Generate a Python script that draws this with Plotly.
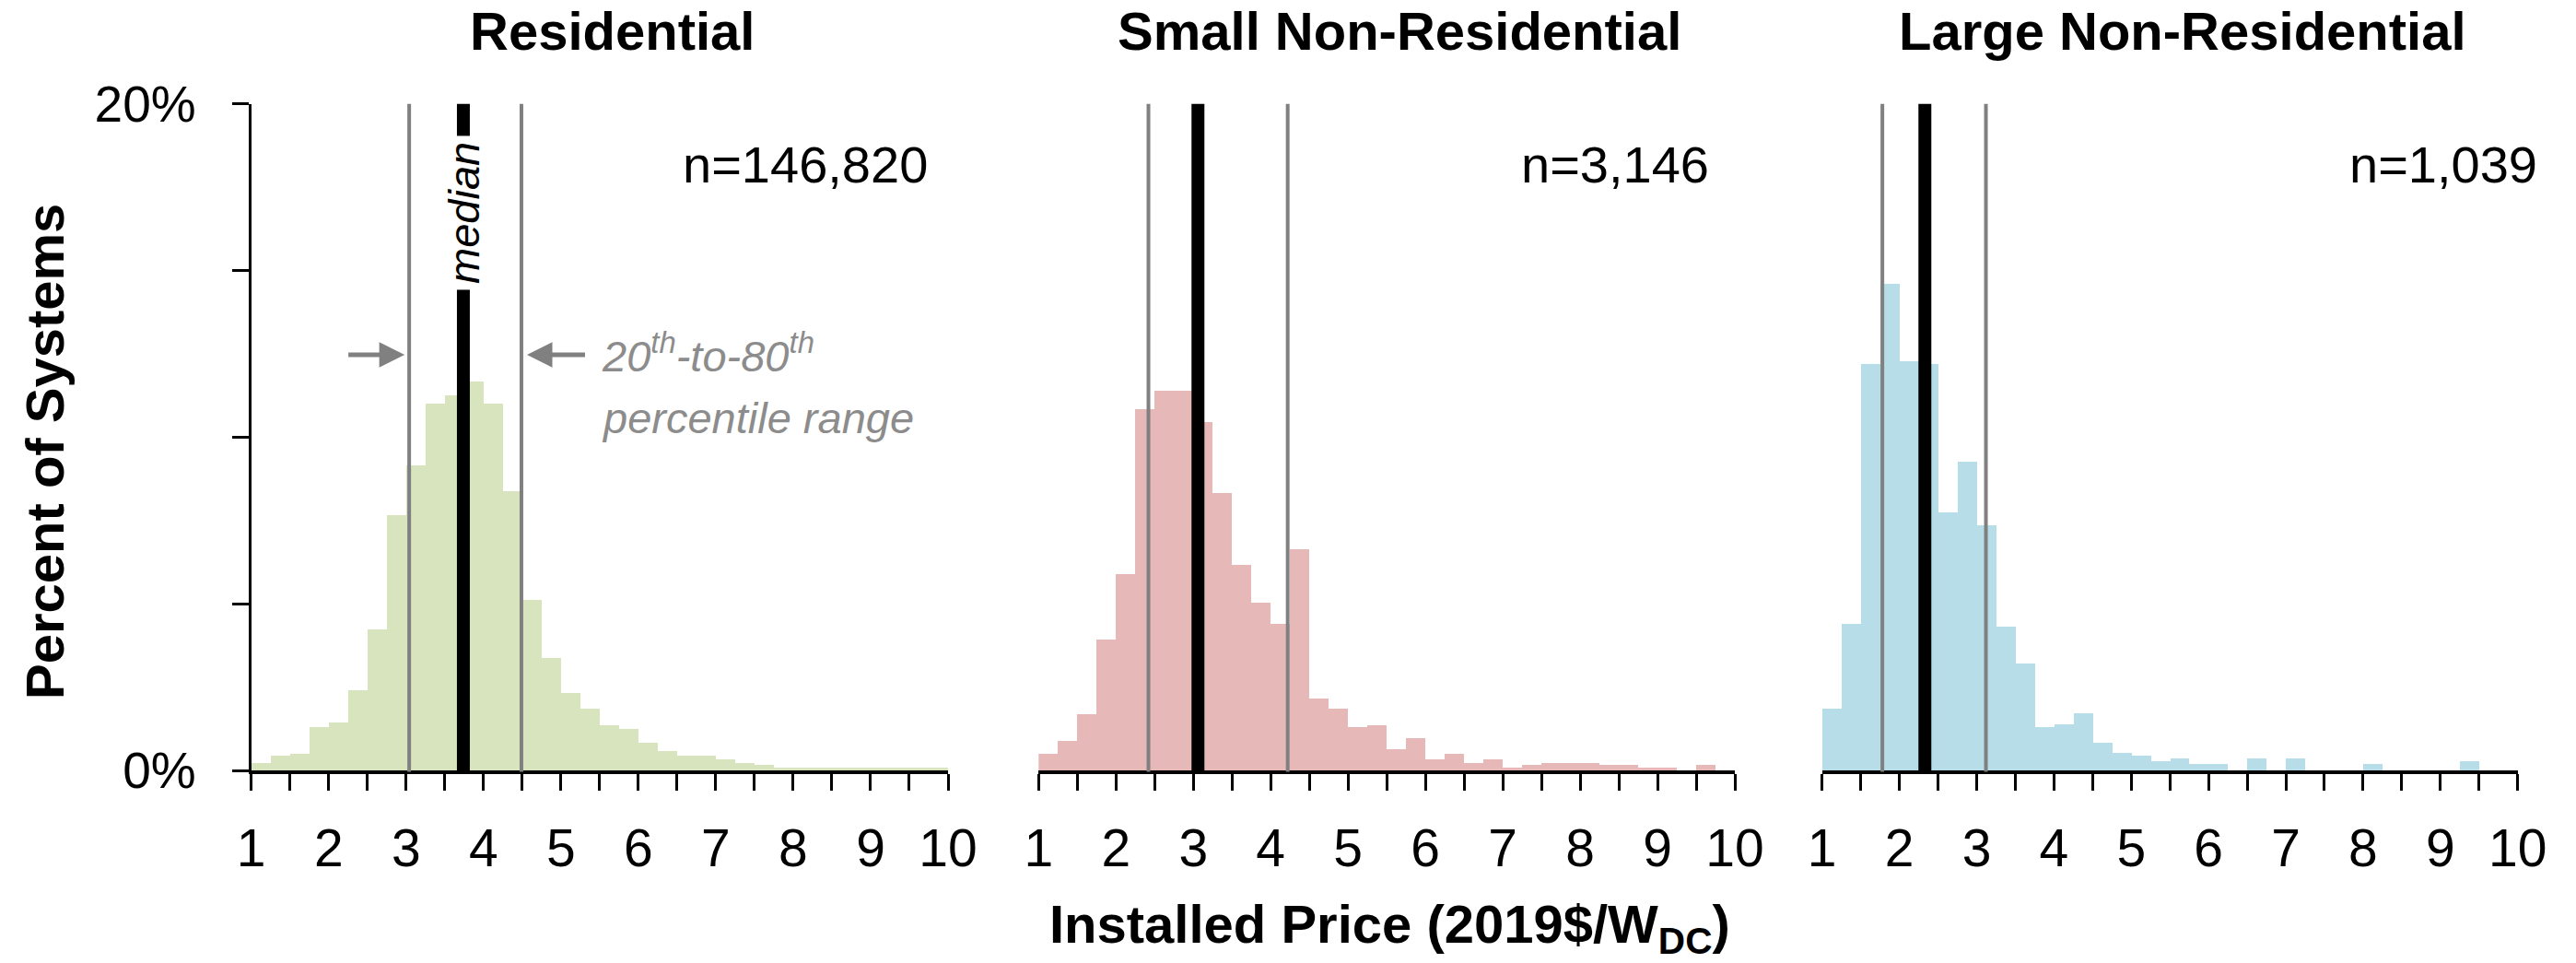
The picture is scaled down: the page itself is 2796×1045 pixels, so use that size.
import plotly.graph_objects as go

W, H = 2796, 1045
FONT = "Arial, 'Liberation Sans', sans-serif"

# Histogram bins: 0.25 $/W wide, from 1 to 10
bin_width = 0.25
bin_centers = [1 + bin_width * (i + 0.5) for i in range(36)]

panel_titles = ["Residential", "Small Non-Residential", "Large Non-Residential"]
sample_sizes = ["n=146,820", "n=3,146", "n=1,039"]
bar_colors = ["#D7E4BD", "#E6B9B8", "#B7DEE8"]

# Percent of systems in each price bin
residential = [0.24, 0.44, 0.51, 1.31, 1.44, 2.41, 4.25, 7.68, 9.16, 11.02, 11.26, 11.67,
               11.02, 8.40, 5.12, 3.38, 2.34, 1.87, 1.36, 1.24, 0.83, 0.58, 0.44, 0.44,
               0.33, 0.24, 0.17, 0.10, 0.10, 0.10, 0.10, 0.10, 0.10, 0.10, 0.10, 0.10]
small_nonres = [0.51, 0.90, 1.70, 3.93, 5.91, 10.86, 11.41, 11.41, 10.47, 8.32, 6.17, 5.03,
                4.40, 6.64, 2.17, 1.86, 1.31, 1.36, 0.64, 0.98, 0.35, 0.51, 0.24, 0.35,
                0.09, 0.17, 0.24, 0.24, 0.24, 0.17, 0.17, 0.09, 0.09, 0.0, 0.17, 0.0]
large_nonres = [1.87, 4.41, 12.21, 14.60, 12.29, 12.21, 7.75, 9.26, 7.36, 4.33, 3.22, 1.30,
                1.38, 1.71, 0.83, 0.52, 0.44, 0.28, 0.36, 0.19, 0.19, 0.0, 0.36, 0.0,
                0.36, 0.0, 0.0, 0.0, 0.19, 0.0, 0.0, 0.0, 0.0, 0.28, 0.0, 0.0]
series = [residential, small_nonres, large_nonres]

# 20th percentile, median, 80th percentile ($/W)
p20 = [3.04, 2.42, 1.78]
median = [3.74, 3.06, 2.33]
p80 = [4.49, 4.22, 3.12]

x_tick_vals = list(range(1, 11))
x_tick_text = [str(v) for v in x_tick_vals]
y_tick_vals = [0, 20]
y_tick_text = ["0%", "20%"]

# Plot-area geometry in pixels
x_left = [272.7, 1127.3, 1977.7]
x_right = [1029.0, 1883.0, 2732.7]
y_bottom_px, y_top_px = 836.0, 112.7

tick_style = dict(ticks="outside", ticklen=18, tickwidth=3, tickcolor="black")

fig = go.Figure()

for i in range(3):
    ax_id = "" if i == 0 else str(i + 1)
    fig.add_trace(go.Bar(
        x=bin_centers, y=series[i], width=bin_width,
        marker=dict(color=bar_colors[i], line=dict(width=0)),
        xaxis="x" + ax_id, yaxis="y" + ax_id, showlegend=False, hoverinfo="skip",
    ))
    xa = dict(
        domain=[x_left[i] / W, x_right[i] / W], range=[1, 10], anchor="y" + ax_id,
        tickvals=x_tick_vals, ticktext=x_tick_text, **tick_style,
        minor=dict(tick0=1, dtick=0.5, showgrid=False, **tick_style),
        showline=True, linewidth=4, linecolor="black",
        showgrid=False, zeroline=False, automargin=False,
        tickfont=dict(family=FONT, size=57, color="black"), ticklabelstandoff=14,
    )
    ya = dict(
        domain=[1 - y_bottom_px / H, 1 - y_top_px / H], range=[0, 20], anchor="x" + ax_id,
        showgrid=False, zeroline=False, automargin=False,
    )
    if i == 0:
        ya.update(tickvals=y_tick_vals, ticktext=y_tick_text, **tick_style,
                  minor=dict(tick0=0, dtick=5, showgrid=False, **tick_style),
                  showline=True, linewidth=3, linecolor="black",
                  tickfont=dict(family=FONT, size=55, color="black"),
                  ticklabelstandoff=28)
    else:
        ya.update(showline=False, showticklabels=False, ticks="")
    fig.update_layout({"xaxis" + ax_id: xa, "yaxis" + ax_id: ya})

    xref = "x" + ax_id
    yref_dom = "y" + ax_id + " domain"
    for xv, col, wd in [(p20[i], "#808080", 4), (p80[i], "#808080", 4), (median[i], "black", 14)]:
        fig.add_shape(type="line", xref=xref, yref=yref_dom, x0=xv, x1=xv, y0=-0.002, y1=1,
                      line=dict(color=col, width=wd), layer="above")

    # Panel title
    fig.add_annotation(text="<b>" + panel_titles[i] + "</b>", xref="paper", yref="paper",
                       x=((x_left[i] + x_right[i]) / 2 + 14) / W, y=1 - 34 / H,
                       xanchor="center", yanchor="middle", showarrow=False,
                       font=dict(family=FONT, size=58, color="black"))

# Sample-size labels
n_right_px = [1009, 1857, 2756]
for i in range(3):
    fig.add_annotation(text=sample_sizes[i], xref="paper", yref="paper",
                       x=n_right_px[i] / W, y=1 - 178 / H, xanchor="right", yanchor="middle",
                       showarrow=False, font=dict(family=FONT, size=56, color="black"))

# Median label on the residential panel, interrupting the median line
fig.add_annotation(text="median", xref="x", yref="paper", x=median[0], y=1 - 231 / H,
                   textangle=-90, showarrow=False, bgcolor="white", borderpad=6,
                   xanchor="center", yanchor="middle",
                   font=dict(family=FONT, size=47, color="black", style="italic"))

# Arrows pointing at the 20th and 80th percentile lines
arrow_y = 1 - 385 / H
fig.add_annotation(x=p20[0], y=arrow_y, xref="x", yref="paper", text=" ", showarrow=True,
                   ax=-69, ay=0, arrowhead=2, arrowsize=1.1, arrowwidth=5,
                   arrowcolor="#808080", standoff=5)
fig.add_annotation(x=p80[0], y=arrow_y, xref="x", yref="paper", text=" ", showarrow=True,
                   ax=72, ay=0, arrowhead=2, arrowsize=1.1, arrowwidth=5,
                   arrowcolor="#808080", standoff=6)

gray_font = dict(family=FONT, size=47, color="#8C8C8C", style="italic")
fig.add_annotation(text="20<sup>th</sup>-to-80<sup>th</sup>", xref="paper", yref="paper",
                   x=651 / W, y=1 - 383 / H, xanchor="left", yanchor="middle",
                   showarrow=False, font=gray_font)
fig.add_annotation(text="percentile range", xref="paper", yref="paper",
                   x=651 / W, y=1 - 453 / H, xanchor="left", yanchor="middle",
                   showarrow=False, font=gray_font)

# Axis titles
fig.add_annotation(text="<b>Percent of Systems</b>", xref="paper", yref="paper",
                   x=48 / W, y=1 - 490 / H, textangle=-90, showarrow=False,
                   xanchor="center", yanchor="middle",
                   font=dict(family=FONT, size=58, color="black"))
fig.add_annotation(text="<b>Installed Price (2019$/W<sub>DC</sub>)</b>", xref="paper",
                   yref="paper", x=1508 / W, y=1 - 1007 / H, showarrow=False,
                   xanchor="center", yanchor="middle",
                   font=dict(family=FONT, size=58, color="black"))

fig.update_layout(
    width=W, height=H, margin=dict(l=0, r=0, t=0, b=0),
    paper_bgcolor="white", plot_bgcolor="white", template="none",
    bargap=0, font=dict(family=FONT),
)

fig.write_html("out.html")
